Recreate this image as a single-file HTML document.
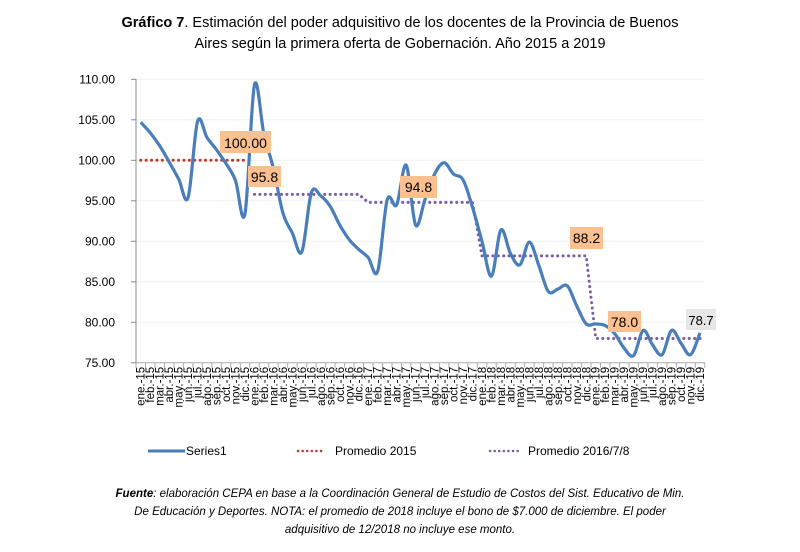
<!DOCTYPE html>
<html><head><meta charset="utf-8"><style>
body{margin:0;background:#fff;}
svg text{font-family:"Liberation Sans",sans-serif;}
</style></head><body>
<svg id="s" width="800" height="547" xmlns="http://www.w3.org/2000/svg">
<text x="400" y="27" font-size="14.5" text-anchor="middle" fill="#000"><tspan font-weight="bold">Gráfico 7</tspan>. Estimación del poder adquisitivo de los docentes de la Provincia de Buenos</text>
<text x="400" y="48" font-size="14.5" text-anchor="middle" fill="#000">Aires según la primera oferta de Gobernación. Año 2015 a 2019</text>
<g id="grid"></g>
<g id="axes"></g>
<path id="red" fill="none" stroke="#c0392b" stroke-width="3" stroke-dasharray="0.1,5.3" stroke-linecap="round"/>
<path id="pur" fill="none" stroke="#7b5aa6" stroke-width="3" stroke-dasharray="0.1,5.3" stroke-linecap="round"/>
<path id="ser" fill="none" stroke="#4a7ebb" stroke-width="3.2" stroke-linejoin="round"/>
<g font-size="14">
<rect x="220" y="131" width="51" height="22" fill="#fac090"/><text x="245.5" y="148" text-anchor="middle">100.00</text>
<rect x="248" y="166" width="33" height="21" fill="#fac090"/><text x="264.5" y="182" text-anchor="middle">95.8</text>
<rect x="400" y="176" width="37" height="22" fill="#fac090"/><text x="418.5" y="192" text-anchor="middle">94.8</text>
<rect x="570" y="227" width="33" height="22" fill="#fac090"/><text x="586.5" y="243" text-anchor="middle">88.2</text>
<rect x="608" y="311" width="33" height="21" fill="#fac090"/><text x="624.5" y="327" text-anchor="middle">78.0</text>
<rect x="686" y="309" width="30" height="21" fill="#e6e6e6"/><text x="701" y="325" text-anchor="middle" font-size="13">78.7</text>
</g>
<g font-size="12">
<line x1="148" y1="451" x2="185" y2="451" stroke="#4a7ebb" stroke-width="3"/><text x="186" y="455">Series1</text>
<line x1="298" y1="451" x2="325" y2="451" stroke="#c0392b" stroke-width="2.5" stroke-dasharray="0.1,4.5" stroke-linecap="round"/><text x="335" y="455">Promedio 2015</text>
<line x1="490" y1="451" x2="518" y2="451" stroke="#7b5aa6" stroke-width="2.5" stroke-dasharray="0.1,4.5" stroke-linecap="round"/><text x="528" y="455">Promedio 2016/7/8</text>
</g>
<g font-size="11.5" font-style="italic" text-anchor="middle">
<text x="400" y="497"><tspan font-weight="bold">Fuente</tspan>: elaboración CEPA en base a la Coordinación General de Estudio de Costos del Sist. Educativo de Min.</text>
<text x="400" y="515">De Educación y Deportes. NOTA: el promedio de 2018 incluye el bono de $7.000 de diciembre. El poder</text>
<text x="400" y="533">adquisitivo de 12/2018 no incluye ese monto.</text>
</g>
</svg>
<script>
var NS="http://www.w3.org/2000/svg";
function Y(v){return 79.3+(110-v)*8.1;}
function X(i){return 140.7+9.48*i;}
var d=[104.7,103.4,101.8,99.8,97.7,95.4,104.8,102.8,101.3,99.6,97.5,93.4,
109.3,103.2,99,93.5,91,88.7,96,95.6,94.3,92,90.2,89,88,86.3,
95.1,94.5,99.4,92,95.2,98.3,99.7,98.3,97.6,94.2,
90,85.7,91.4,88.5,87.1,89.9,87,83.8,84.1,84.5,82,79.8,
79.8,79.6,78.6,76.8,75.9,79,77.2,76,79,77.4,76,78.7];
var pts=d.map(function(v,i){return [X(i),Y(v)];});
var p="M"+pts[0][0]+","+pts[0][1];
for(var i=0;i<pts.length-1;i++){
 var p0=pts[Math.max(0,i-1)],p1=pts[i],p2=pts[i+1],p3=pts[Math.min(pts.length-1,i+2)];
 var t=0.5/3;
 p+=" C"+(p1[0]+(p2[0]-p0[0])*t)+","+(p1[1]+(p2[1]-p0[1])*t)+" "+(p2[0]-(p3[0]-p1[0])*t)+","+(p2[1]-(p3[1]-p1[1])*t)+" "+p2[0]+","+p2[1];
}
document.getElementById("ser").setAttribute("d",p);
document.getElementById("red").setAttribute("d","M"+X(0)+","+Y(100)+" L"+X(11)+","+Y(100));
document.getElementById("pur").setAttribute("d","M"+X(12)+","+Y(95.8)+" L"+X(23)+","+Y(95.8)+" L"+X(24)+","+Y(94.8)+" L"+X(35)+","+Y(94.8)+" L"+X(36)+","+Y(88.2)+" L"+X(47)+","+Y(88.2)+" L"+X(48)+","+Y(78)+" L"+X(59)+","+Y(78));
var g=document.getElementById("grid"),a=document.getElementById("axes");
function el(par,tag,at,txt){var e=document.createElementNS(NS,tag);for(var k in at)e.setAttribute(k,at[k]);if(txt)e.textContent=txt;par.appendChild(e);return e;}
for(var v=75;v<=110;v+=5){
 var y=Y(v);
 if(v>75)el(g,"line",{x1:136,x2:705,y1:y,y2:y,stroke:"#f0f0f0","stroke-width":1});
 el(a,"line",{x1:131,x2:136,y1:y,y2:y,stroke:"#888"});
 el(a,"text",{x:115,y:y+4,"font-size":12,"text-anchor":"end"},v.toFixed(2));
}
el(a,"line",{x1:136,x2:136,y1:Y(110),y2:Y(75),stroke:"#888"});
el(a,"line",{x1:136,x2:705,y1:Y(75),y2:Y(75),stroke:"#aaa"});
var m=["ene.","feb.","mar.","abr.","may.","jun.","jul.","ago.","sep.","oct.","nov.","dic."];
for(var i=0;i<=60;i++){var x=136+9.48*i;el(a,"line",{x1:x,x2:x,y1:Y(75),y2:Y(75)+5,stroke:"#aaa"});}
for(var i=0;i<60;i++){
 var x=X(i)+4,lab=m[i%12]+"-"+(15+Math.floor(i/12));
 el(a,"text",{x:0,y:0,"font-size":11.5,"text-anchor":"end",transform:"translate("+x+","+(Y(75)+4)+") rotate(-90)"},lab);
}
</script>
</body></html>
